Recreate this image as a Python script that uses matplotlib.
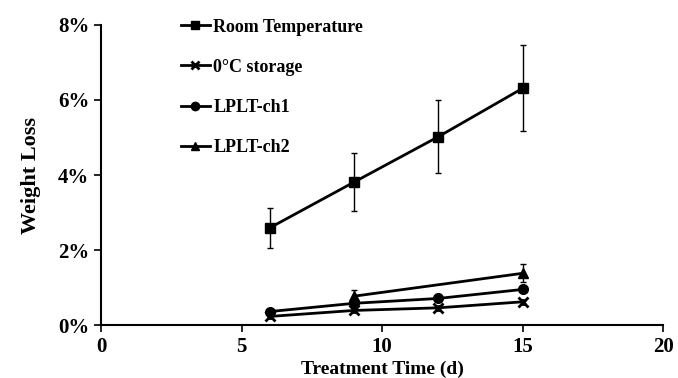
import matplotlib
matplotlib.use("Agg")
import matplotlib.pyplot as plt
from matplotlib.ticker import FuncFormatter
from matplotlib.lines import Line2D

plt.rcParams['font.family'] = ['Liberation Serif', 'DejaVu Serif']
plt.rcParams['font.weight'] = 'bold'

# Data (weight loss, fraction)
rt_x = [6, 9, 12, 15]
rt_y = [0.0259, 0.0381, 0.0502, 0.0631]
rt_err = [0.0054, 0.0078, 0.0097, 0.0115]

c0_x = [6, 9, 12, 15]
c0_y = [0.0023, 0.0039, 0.0046, 0.0062]
c0_err = [0.0003, 0.0004, 0.0005, 0.0006]

ch1_x = [6, 9, 12, 15]
ch1_y = [0.0036, 0.0058, 0.0071, 0.0095]
ch1_err = [0.0003, 0.0005, 0.0006, 0.0007]

ch2_x = [9, 15]
ch2_y = [0.0077, 0.0138]
ch2_err = [0.0017, 0.0024]

labels = ["Room Temperature", "0°C storage", "LPLT-ch1", "LPLT-ch2"]

fig = plt.figure(figsize=(6.78, 3.78), dpi=100)
ax = fig.add_axes([0.149, 0.140, 0.829, 0.794])

series = [
    (rt_x, rt_y, rt_err, 's', 7),
    (c0_x, c0_y, c0_err, 'x', 7),
    (ch1_x, ch1_y, ch1_err, 'o', 7),
    (ch2_x, ch2_y, ch2_err, '^', 7),
]
handles = []
for (x, y, e, m, ms), lab in zip(series, labels):
    mew = 2.0 if m == 'x' else 1.0
    ax.errorbar(x, y, yerr=e, color='black', marker=m, markersize=ms,
                markeredgewidth=mew,
                linewidth=2.0, elinewidth=1.0, capsize=2.5, capthick=1.0)
    handles.append(Line2D([], [], color='black', marker=m, markersize=ms - 1,
                          markeredgewidth=mew, linewidth=2.0, label=lab))

ax.set_xlim(0, 20)
ax.set_ylim(0, 0.08)
ax.set_xticks([0, 5, 10, 15, 20])
ax.set_yticks([0, 0.02, 0.04, 0.06, 0.08])
ax.yaxis.set_major_formatter(FuncFormatter(lambda v, p: f"{v*100:.0f}%"))
ax.spines['top'].set_visible(False)
ax.spines['right'].set_visible(False)
for s in ['left', 'bottom']:
    ax.spines[s].set_linewidth(1.5)
ax.tick_params(axis='both', direction='out', length=5, width=1.2, labelsize=15)
for t in ax.get_xticklabels() + ax.get_yticklabels():
    t.set_fontweight('bold')

ax.set_xlabel("Treatment Time (d)", fontsize=14, fontweight='bold', labelpad=3)
ax.set_ylabel("Weight Loss", fontsize=16, fontweight='bold', labelpad=12)

leg = ax.legend(handles=handles, loc='upper left', bbox_to_anchor=(0.113, 1.075),
                frameon=False, fontsize=13, handlelength=1.6, labelspacing=1.28,
                handletextpad=0.2)
for t in leg.get_texts():
    t.set_fontweight('bold')

fig.savefig("out.png", dpi=100)
